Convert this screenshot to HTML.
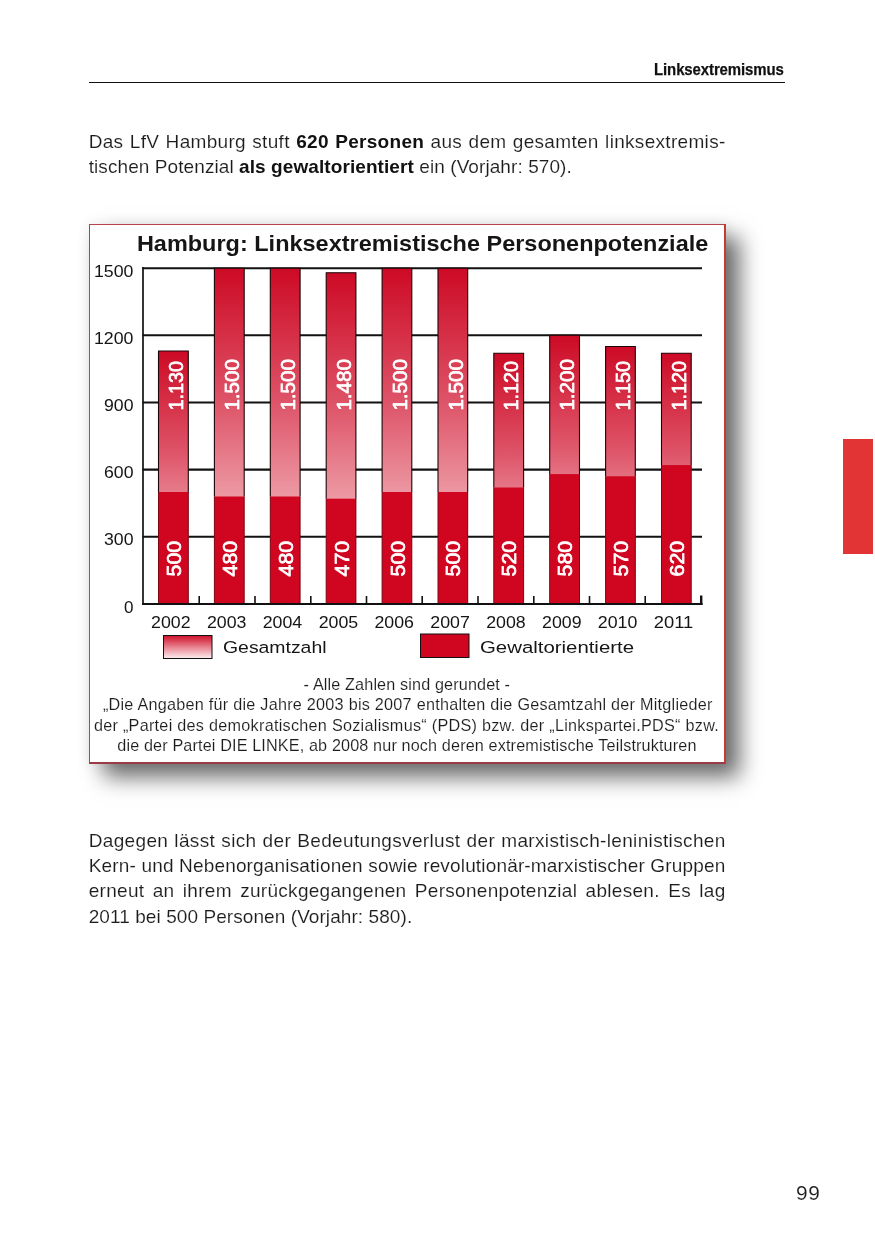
<!DOCTYPE html>
<html lang="de">
<head>
<meta charset="utf-8">
<title>Linksextremismus</title>
<style>
html,body{margin:0;padding:0;background:#fff;}
body{width:875px;height:1241px;position:relative;overflow:hidden;font-family:"Liberation Sans",sans-serif;color:#1d1d1d;}
.t{position:absolute;white-space:nowrap;transform-origin:0 0;text-align:justify;text-align-last:justify;color:#1c1c1c;}
.ln,.fn,.pn{-webkit-text-stroke:0.12px #fff;}
.t b{color:#111;-webkit-text-stroke:0;}
.hd{font-weight:bold;color:#111;-webkit-text-stroke:0.25px #111;}
.rule{position:absolute;left:89px;top:81.6px;width:696px;height:1.2px;background:#111;}
.box{position:absolute;left:89px;top:224px;width:634.3px;height:537px;border-style:solid;border-width:1px 2px 2.5px 1px;border-color:#b8424a #c83a30 #9a3c46 #b8424a;background:#fff;box-shadow:13.5px 13px 21px 0 rgba(0,0,4,0.59),0 0 14px rgba(0,0,0,0.07);}
.chart{position:absolute;left:0;top:0;}
.chart text{font-family:"Liberation Sans",sans-serif;}
.ax{font-size:16.6px;fill:#151515;}
.bv{font-size:19.8px;fill:#fff;stroke:#fff;stroke-width:0.7px;}
.ti{font-size:22.2px;font-weight:bold;fill:#151515;}
.lg{font-size:17.2px;fill:#151515;}
.tab{position:absolute;left:843px;top:439px;width:30px;height:114.7px;background:#e23434;}
</style>
</head>
<body>
<div class="rule"></div>
<div class="box"></div>
<svg class="chart" width="875" height="1241" viewBox="0 0 875 1241">
<defs>
<linearGradient id="g" x1="0" y1="0" x2="0" y2="1"><stop offset="0" stop-color="#cd0a25"/><stop offset="0.4" stop-color="#de5468"/><stop offset="0.67" stop-color="#ec97a2"/><stop offset="1" stop-color="#fbe1e4"/></linearGradient>
<linearGradient id="lg" x1="0" y1="0" x2="0" y2="1"><stop offset="0" stop-color="#d0102a"/><stop offset="1" stop-color="#fdf0f1"/></linearGradient>
</defs>
<line x1="142.5" y1="268.2" x2="702" y2="268.2" stroke="#111" stroke-width="2.1"/>
<line x1="142.5" y1="335.3" x2="702" y2="335.3" stroke="#111" stroke-width="2.1"/>
<line x1="142.5" y1="402.5" x2="702" y2="402.5" stroke="#111" stroke-width="2.1"/>
<line x1="142.5" y1="469.6" x2="702" y2="469.6" stroke="#111" stroke-width="2.1"/>
<line x1="142.5" y1="536.8" x2="702" y2="536.8" stroke="#111" stroke-width="2.1"/>
<text x="133.5" y="276.8" text-anchor="end" class="ax" textLength="39.5" lengthAdjust="spacingAndGlyphs">1500</text>
<text x="133.5" y="343.9" text-anchor="end" class="ax" textLength="39.5" lengthAdjust="spacingAndGlyphs">1200</text>
<text x="133.5" y="411.1" text-anchor="end" class="ax" textLength="29.5" lengthAdjust="spacingAndGlyphs">900</text>
<text x="133.5" y="478.2" text-anchor="end" class="ax" textLength="29.5" lengthAdjust="spacingAndGlyphs">600</text>
<text x="133.5" y="545.4" text-anchor="end" class="ax" textLength="29.5" lengthAdjust="spacingAndGlyphs">300</text>
<text x="133.5" y="612.5" text-anchor="end" class="ax" textLength="9.5" lengthAdjust="spacingAndGlyphs">0</text>
<rect x="158.5" y="351.0" width="29.75" height="252.9" fill="url(#g)"/>
<rect x="158.5" y="492.0" width="29.75" height="111.9" fill="#d0051f"/>
<path d="M158.5 492.0V351.0H188.3V492.0" fill="none" stroke="#1c0608" stroke-width="1.1"/>
<path d="M158.5 492.0V603.9M188.3 492.0V603.9" fill="none" stroke="#7c0613" stroke-width="1.0"/>
<text transform="translate(183.1 410.6) rotate(-90)" class="bv" textLength="49.5" lengthAdjust="spacingAndGlyphs">1.130</text>
<text transform="translate(181.0 576.4) rotate(-90)" class="bv" textLength="35.5" lengthAdjust="spacingAndGlyphs">500</text>
<rect x="214.4" y="268.2" width="29.75" height="335.7" fill="url(#g)"/>
<rect x="214.4" y="496.5" width="29.75" height="107.4" fill="#d0051f"/>
<path d="M214.4 496.5V268.2H244.2V496.5" fill="none" stroke="#1c0608" stroke-width="1.1"/>
<path d="M214.4 496.5V603.9M244.2 496.5V603.9" fill="none" stroke="#7c0613" stroke-width="1.0"/>
<text transform="translate(239.0 410.6) rotate(-90)" class="bv" textLength="51.5" lengthAdjust="spacingAndGlyphs">1.500</text>
<text transform="translate(236.9 576.4) rotate(-90)" class="bv" textLength="35.5" lengthAdjust="spacingAndGlyphs">480</text>
<rect x="270.3" y="268.2" width="29.75" height="335.7" fill="url(#g)"/>
<rect x="270.3" y="496.5" width="29.75" height="107.4" fill="#d0051f"/>
<path d="M270.3 496.5V268.2H300.1V496.5" fill="none" stroke="#1c0608" stroke-width="1.1"/>
<path d="M270.3 496.5V603.9M300.1 496.5V603.9" fill="none" stroke="#7c0613" stroke-width="1.0"/>
<text transform="translate(294.9 410.6) rotate(-90)" class="bv" textLength="51.5" lengthAdjust="spacingAndGlyphs">1.500</text>
<text transform="translate(292.8 576.4) rotate(-90)" class="bv" textLength="35.5" lengthAdjust="spacingAndGlyphs">480</text>
<rect x="326.2" y="272.7" width="29.75" height="331.2" fill="url(#g)"/>
<rect x="326.2" y="498.7" width="29.75" height="105.2" fill="#d0051f"/>
<path d="M326.2 498.7V272.7H355.9V498.7" fill="none" stroke="#1c0608" stroke-width="1.1"/>
<path d="M326.2 498.7V603.9M355.9 498.7V603.9" fill="none" stroke="#7c0613" stroke-width="1.0"/>
<text transform="translate(350.8 410.6) rotate(-90)" class="bv" textLength="51.5" lengthAdjust="spacingAndGlyphs">1.480</text>
<text transform="translate(348.7 576.4) rotate(-90)" class="bv" textLength="35.5" lengthAdjust="spacingAndGlyphs">470</text>
<rect x="382.1" y="268.2" width="29.75" height="335.7" fill="url(#g)"/>
<rect x="382.1" y="492.0" width="29.75" height="111.9" fill="#d0051f"/>
<path d="M382.1 492.0V268.2H411.8V492.0" fill="none" stroke="#1c0608" stroke-width="1.1"/>
<path d="M382.1 492.0V603.9M411.8 492.0V603.9" fill="none" stroke="#7c0613" stroke-width="1.0"/>
<text transform="translate(406.6 410.6) rotate(-90)" class="bv" textLength="51.5" lengthAdjust="spacingAndGlyphs">1.500</text>
<text transform="translate(404.5 576.4) rotate(-90)" class="bv" textLength="35.5" lengthAdjust="spacingAndGlyphs">500</text>
<rect x="438.0" y="268.2" width="29.75" height="335.7" fill="url(#g)"/>
<rect x="438.0" y="492.0" width="29.75" height="111.9" fill="#d0051f"/>
<path d="M438.0 492.0V268.2H467.7V492.0" fill="none" stroke="#1c0608" stroke-width="1.1"/>
<path d="M438.0 492.0V603.9M467.7 492.0V603.9" fill="none" stroke="#7c0613" stroke-width="1.0"/>
<text transform="translate(462.5 410.6) rotate(-90)" class="bv" textLength="51.5" lengthAdjust="spacingAndGlyphs">1.500</text>
<text transform="translate(460.4 576.4) rotate(-90)" class="bv" textLength="35.5" lengthAdjust="spacingAndGlyphs">500</text>
<rect x="493.8" y="353.2" width="29.75" height="250.7" fill="url(#g)"/>
<rect x="493.8" y="487.5" width="29.75" height="116.4" fill="#d0051f"/>
<path d="M493.8 487.5V353.2H523.6V487.5" fill="none" stroke="#1c0608" stroke-width="1.1"/>
<path d="M493.8 487.5V603.9M523.6 487.5V603.9" fill="none" stroke="#7c0613" stroke-width="1.0"/>
<text transform="translate(518.4 410.6) rotate(-90)" class="bv" textLength="49.5" lengthAdjust="spacingAndGlyphs">1.120</text>
<text transform="translate(516.3 576.4) rotate(-90)" class="bv" textLength="35.5" lengthAdjust="spacingAndGlyphs">520</text>
<rect x="549.7" y="335.3" width="29.75" height="268.6" fill="url(#g)"/>
<rect x="549.7" y="474.1" width="29.75" height="129.8" fill="#d0051f"/>
<path d="M549.7 474.1V335.3H579.5V474.1" fill="none" stroke="#1c0608" stroke-width="1.1"/>
<path d="M549.7 474.1V603.9M579.5 474.1V603.9" fill="none" stroke="#7c0613" stroke-width="1.0"/>
<text transform="translate(574.3 410.6) rotate(-90)" class="bv" textLength="51.5" lengthAdjust="spacingAndGlyphs">1.200</text>
<text transform="translate(572.2 576.4) rotate(-90)" class="bv" textLength="35.5" lengthAdjust="spacingAndGlyphs">580</text>
<rect x="605.6" y="346.5" width="29.75" height="257.4" fill="url(#g)"/>
<rect x="605.6" y="476.3" width="29.75" height="127.6" fill="#d0051f"/>
<path d="M605.6 476.3V346.5H635.3V476.3" fill="none" stroke="#1c0608" stroke-width="1.1"/>
<path d="M605.6 476.3V603.9M635.3 476.3V603.9" fill="none" stroke="#7c0613" stroke-width="1.0"/>
<text transform="translate(630.2 410.6) rotate(-90)" class="bv" textLength="49.5" lengthAdjust="spacingAndGlyphs">1.150</text>
<text transform="translate(628.1 576.4) rotate(-90)" class="bv" textLength="35.5" lengthAdjust="spacingAndGlyphs">570</text>
<rect x="661.5" y="353.2" width="29.75" height="250.7" fill="url(#g)"/>
<rect x="661.5" y="465.1" width="29.75" height="138.8" fill="#d0051f"/>
<path d="M661.5 465.1V353.2H691.2V465.1" fill="none" stroke="#1c0608" stroke-width="1.1"/>
<path d="M661.5 465.1V603.9M691.2 465.1V603.9" fill="none" stroke="#7c0613" stroke-width="1.0"/>
<text transform="translate(686.0 410.6) rotate(-90)" class="bv" textLength="49.5" lengthAdjust="spacingAndGlyphs">1.120</text>
<text transform="translate(683.9 576.4) rotate(-90)" class="bv" textLength="35.5" lengthAdjust="spacingAndGlyphs">620</text>
<line x1="143.0" y1="267.1" x2="143.0" y2="604.8" stroke="#111" stroke-width="1.7"/>
<line x1="142.1" y1="604.0" x2="702.6" y2="604.0" stroke="#111" stroke-width="1.8"/>
<line x1="199.2" y1="596" x2="199.2" y2="603.9" stroke="#111" stroke-width="1.6"/>
<line x1="255.0" y1="596" x2="255.0" y2="603.9" stroke="#111" stroke-width="1.6"/>
<line x1="310.8" y1="596" x2="310.8" y2="603.9" stroke="#111" stroke-width="1.6"/>
<line x1="366.5" y1="596" x2="366.5" y2="603.9" stroke="#111" stroke-width="1.6"/>
<line x1="422.2" y1="596" x2="422.2" y2="603.9" stroke="#111" stroke-width="1.6"/>
<line x1="478.0" y1="596" x2="478.0" y2="603.9" stroke="#111" stroke-width="1.6"/>
<line x1="533.8" y1="596" x2="533.8" y2="603.9" stroke="#111" stroke-width="1.6"/>
<line x1="589.5" y1="596" x2="589.5" y2="603.9" stroke="#111" stroke-width="1.6"/>
<line x1="645.2" y1="596" x2="645.2" y2="603.9" stroke="#111" stroke-width="1.6"/>
<line x1="701.2" y1="595.5" x2="701.2" y2="604.9" stroke="#111" stroke-width="2.4"/>
<text x="170.8" y="627.9" text-anchor="middle" class="ax" textLength="39.5" lengthAdjust="spacingAndGlyphs">2002</text>
<text x="226.7" y="627.9" text-anchor="middle" class="ax" textLength="39.5" lengthAdjust="spacingAndGlyphs">2003</text>
<text x="282.5" y="627.9" text-anchor="middle" class="ax" textLength="39.5" lengthAdjust="spacingAndGlyphs">2004</text>
<text x="338.4" y="627.9" text-anchor="middle" class="ax" textLength="39.5" lengthAdjust="spacingAndGlyphs">2005</text>
<text x="394.2" y="627.9" text-anchor="middle" class="ax" textLength="39.5" lengthAdjust="spacingAndGlyphs">2006</text>
<text x="450.1" y="627.9" text-anchor="middle" class="ax" textLength="39.5" lengthAdjust="spacingAndGlyphs">2007</text>
<text x="505.9" y="627.9" text-anchor="middle" class="ax" textLength="39.5" lengthAdjust="spacingAndGlyphs">2008</text>
<text x="561.8" y="627.9" text-anchor="middle" class="ax" textLength="39.5" lengthAdjust="spacingAndGlyphs">2009</text>
<text x="617.6" y="627.9" text-anchor="middle" class="ax" textLength="39.5" lengthAdjust="spacingAndGlyphs">2010</text>
<text x="673.5" y="627.9" text-anchor="middle" class="ax" textLength="39.5" lengthAdjust="spacingAndGlyphs">2011</text>
<text x="136.9" y="250.7" class="ti" textLength="571.4" lengthAdjust="spacingAndGlyphs">Hamburg: Linksextremistische Personenpotenziale</text>
<rect x="163.5" y="635.5" width="48.5" height="23" fill="url(#lg)" stroke="#111" stroke-width="1"/>
<rect x="420.5" y="634" width="48.5" height="23.5" fill="#d0051f" stroke="#111" stroke-width="1"/>
<text x="223" y="652.7" class="lg" textLength="103.5" lengthAdjust="spacingAndGlyphs">Gesamtzahl</text>
<text x="480" y="652.7" class="lg" textLength="154" lengthAdjust="spacingAndGlyphs">Gewaltorientierte</text>
</svg>
<div class="t ln" style="left:88.7px;top:129.87px;width:636.91px;font-size:19.0px;line-height:24.7px;height:24.7px;letter-spacing:0.310px;transform:scaleX(1.0)">Das LfV Hamburg stuft <b>620 Personen</b> aus dem gesamten linksextremis-</div>
<div class="t ln" style="left:88.7px;top:155.27px;width:483.18px;font-size:19.0px;line-height:24.7px;height:24.7px;letter-spacing:0.081px;transform:scaleX(1.0)">tischen Potenzial <b>als gewaltorientiert</b> ein (Vorjahr: 570).</div>
<div class="t ln" style="left:88.7px;top:829.17px;width:636.95px;font-size:19.0px;line-height:24.7px;height:24.7px;letter-spacing:0.345px;transform:scaleX(1.0)">Dagegen lässt sich der Bedeutungsverlust der marxistisch-leninistischen</div>
<div class="t ln" style="left:88.7px;top:854.27px;width:636.76px;font-size:19.0px;line-height:24.7px;height:24.7px;letter-spacing:0.163px;transform:scaleX(1.0)">Kern- und Nebenorganisationen sowie revolutionär-marxistischer Gruppen</div>
<div class="t ln" style="left:88.7px;top:879.47px;width:636.89px;font-size:19.0px;line-height:24.7px;height:24.7px;letter-spacing:0.293px;transform:scaleX(1.0)">erneut an ihrem zurückgegangenen Personenpotenzial ablesen. Es lag</div>
<div class="t ln" style="left:88.7px;top:904.57px;width:323.57px;font-size:19.0px;line-height:24.7px;height:24.7px;letter-spacing:0.074px;transform:scaleX(1.0)">2011 bei 500 Personen (Vorjahr: 580).</div>
<div class="t fn" style="left:303.6px;top:674.26px;width:206.54px;font-size:16.2px;line-height:21.06px;height:21.06px;letter-spacing:0.136px;transform:scaleX(1.0)">- Alle Zahlen sind gerundet -</div>
<div class="t fn" style="left:102.9px;top:694.36px;width:609.75px;font-size:16.2px;line-height:21.06px;height:21.06px;letter-spacing:0.251px;transform:scaleX(1.0)">„Die Angaben für die Jahre 2003 bis 2007 enthalten die Gesamtzahl der Mitglieder</div>
<div class="t fn" style="left:93.9px;top:714.56px;width:625.17px;font-size:16.2px;line-height:21.06px;height:21.06px;letter-spacing:0.273px;transform:scaleX(1.0)">der „Partei des demokratischen Sozialismus“ (PDS) bzw. der „Linkspartei.PDS“ bzw.</div>
<div class="t fn" style="left:117.3px;top:734.66px;width:579.24px;font-size:16.2px;line-height:21.06px;height:21.06px;letter-spacing:0.138px;transform:scaleX(1.0)">die der Partei DIE LINKE, ab 2008 nur noch deren extremistische Teilstrukturen</div>
<div class="t hd" style="left:654.4px;top:57.86px;width:150.82px;font-size:17.4px;line-height:22.62px;height:22.62px;letter-spacing:-0.113px;transform:scaleX(0.86)">Linksextremismus</div>
<div class="t pn" style="left:795.8px;top:1179.77px;width:24.54px;font-size:20.3px;line-height:26.39px;height:26.39px;letter-spacing:0.660px;transform:scaleX(1.03)">99</div>
<div class="tab"></div>
</body>
</html>
